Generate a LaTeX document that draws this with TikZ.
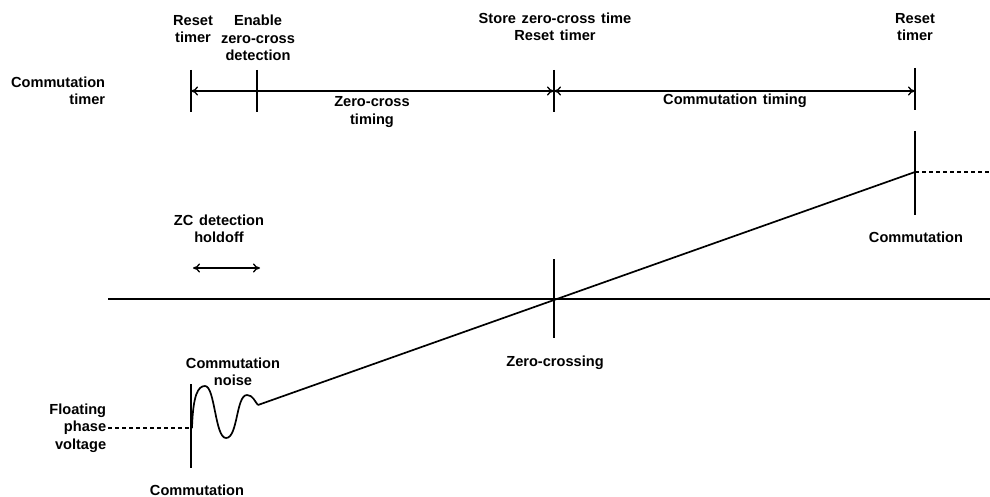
\documentclass[tikz,border=0pt]{standalone}
\usepackage{fontspec}
\setmainfont[WordSpace=1.4]{Liberation Sans}
\usetikzlibrary{arrows.meta}
\begin{document}
\begin{tikzpicture}[x=1pt,y=-1pt,
  line width=1.7pt,
  lbl/.style={font=\fontsize{14.6}{17.5}\selectfont\bfseries, align=center, inner sep=0pt},
  lblr/.style={lbl, align=right, anchor=east},
  tick/.style={line width=1.8pt},
  span/.style={{To[length=7pt,width=9pt,line width=1.3pt]}-{To[length=7pt,width=9pt,line width=1.3pt]}, line width=1.6pt},
  dashline/.style={dash pattern=on 4pt off 3pt, line width=1.3pt}]
\useasboundingbox (0,0) rectangle (990,497);

% ---- commutation timer row ----
\coordinate (t0) at (191,91);
\coordinate (t1) at (257,91);
\coordinate (t2) at (554,91);
\coordinate (t3) at (915,91);
\draw[tick] (191,70) -- (191,112);
\draw[tick] (257,70) -- (257,112);
\draw[tick] (554,70) -- (554,112);
\draw[tick] (915,68) -- (915,110);
\draw[span] (t0) -- (t2);
\draw[span] (t2) -- (t3);

\node[lblr] (ct) at (106,91) {Commutation\\timer};
\node[lbl] (rt1) at (193,29) {Reset\\timer};
\node[lbl] (en) at (258,38) {Enable\\zero-cross\\detection};
\node[lbl] (zct) at (372,112) {Zero-cross\\timing};
\node[lbl] (st) at (555,27) {Store zero-cross time\\Reset timer};
\node[lbl] (cmt) at (735,101) {Commutation timing};
\node[lbl] (rt2) at (915,27) {Reset\\timer};

% ---- phase voltage ----
\coordinate (axL) at (108,299);
\coordinate (axR) at (990,299);
\draw (axL) -- (axR);

\coordinate (nEnd) at (258,405);
\coordinate (cTop) at (915,172);
\draw (nEnd) -- (cTop);
\draw[dashline] (cTop) -- (990,172);

\draw[tick] (554,259) -- (554,338);
\draw[tick] (915,131) -- (915,215);
\draw[tick] (191,384) -- (191,468);

% commutation noise
\coordinate (nStart) at (192,428);
\draw[dashline] (108,428) -- (nStart);
\draw (nStart) .. controls (193,395) and (198,386) .. (205,386)
  .. controls (215,386) and (215,438) .. (226,438)
  .. controls (238,438) and (236,395) .. (247,395)
  .. controls (253,395) and (255,402) .. (nEnd);

\node[lbl] (zch) at (219,229) {ZC detection\\holdoff};
\coordinate (h0) at (193,268);
\coordinate (h1) at (260,268);
\draw[span, line width=1.3pt] (h0) -- (h1);

\node[lbl] (cm2) at (916,237) {Commutation};
\node[lbl] (zc) at (555,363) {Zero-crossing};
\node[lbl] (cn) at (233,372) {Commutation\\noise};
\node[lblr] (fp) at (107,428) {Floating\\phase\\voltage};
\node[lbl] (cm1) at (197,490) {Commutation};
\end{tikzpicture}
\end{document}
